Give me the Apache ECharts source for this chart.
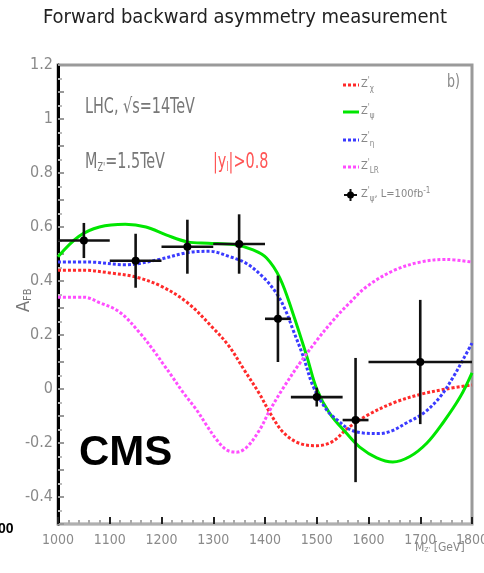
<!DOCTYPE html>
<html><head><meta charset="utf-8">
<script src="https://cdn.jsdelivr.net/npm/echarts@6/dist/echarts.min.js"></script>
<style>html,body{margin:0;padding:0;background:#fff}#c{width:484px;height:573px}</style>
</head><body><div id="c"></div><script>
// ---- data ----
const chiM = [1000,1050,1100,1150,1200,1250,1300,1330,1360,1390,1410,1435,1465,1500,1530,1560,1600,1650,1700,1750,1800];
const chiA = [0.44,0.44,0.43,0.415,0.38,0.32,0.225,0.16,0.07,-0.02,-0.09,-0.16,-0.20,-0.21,-0.195,-0.145,-0.095,-0.05,-0.02,0.0,0.015];

const psiM = [1000,1040,1080,1130,1170,1210,1250,1290,1340,1377,1403,1429,1454,1481,1500,1525,1558,1583,1616,1647,1680,1713,1744,1777,1800];
const psiA = [0.49,0.565,0.60,0.61,0.60,0.57,0.545,0.54,0.535,0.515,0.485,0.41,0.28,0.12,0.0,-0.09,-0.165,-0.215,-0.255,-0.27,-0.25,-0.20,-0.125,-0.03,0.06];

const etaM = [1000,1060,1130,1196,1250,1293,1332,1364,1396,1422,1440,1454,1474,1493,1520,1540,1564,1590,1620,1645,1674,1706,1738,1764,1783,1800];
const etaA = [0.47,0.47,0.46,0.48,0.505,0.51,0.49,0.465,0.415,0.355,0.29,0.22,0.12,0.01,-0.08,-0.115,-0.15,-0.163,-0.165,-0.155,-0.125,-0.09,-0.03,0.045,0.11,0.17];

const lrM = [1000,1050,1080,1119,1158,1187,1202,1221,1241,1268,1287,1307,1326,1345,1365,1390,1409,1434,1467,1500,1532,1564,1597,1650,1700,1750,1800];
const lrA = [0.34,0.34,0.32,0.285,0.208,0.137,0.096,0.045,-0.011,-0.078,-0.134,-0.189,-0.226,-0.234,-0.215,-0.15,-0.08,0.0,0.095,0.18,0.255,0.32,0.38,0.44,0.47,0.48,0.47];

// measured points (Z'_psi, L = 100 fb^-1)
const ptM   = [1050,1150,1250,1350,1425,1500,1575,1700];
const ptA   = [0.55,0.475,0.527,0.537,0.26,-0.03,-0.115,0.10];
const ptLo  = [1000,1100,1200,1300,1400,1450,1550,1600];
const ptHi  = [1100,1200,1300,1400,1450,1550,1600,1800];
const ptErr = [0.065,0.10,0.10,0.11,0.16,0.035,0.23,0.23];

const legendSub = ['χ','ψ','η','LR','ψ'];
const NARROW = '"Liberation Sans Narrow","Arial Narrow","DejaVu Sans Condensed",sans-serif';

const zip = (a,b) => a.map((v,i)=>[v,b[i]]);
const chart = echarts.init(document.getElementById('c'), null, {renderer:'canvas'});

function lineSeries(name, M, A, color, dash){
  return {name, type:'line', data:zip(M,A), smooth:0.35, showSymbol:false, silent:true,
    lineStyle:{color, width:3, type:dash}, z:3};
}

const gray = '#8a8a8a';
const option = {
  animation:false,
  grid:{left:58, right:12, top:65, bottom:49, show:true, borderColor:'#9a9a9a', borderWidth:3,
        containLabel:false, outerBoundsMode:'none'},
  xAxis:{type:'value', min:1000, max:1800, interval:100,
    axisLine:{show:true, onZero:false, lineStyle:{color:'#b0b0b0', width:2}},
    axisTick:{inside:true, length:7, lineStyle:{color:'#222', width:2}},
    minorTick:{show:true, splitNumber:5, length:4, lineStyle:{color:'#aaa', width:2}},
    splitLine:{show:false},
    axisLabel:{color:gray, fontFamily:NARROW, fontSize:14, margin:9, formatter:v=>String(v)}},
  yAxis:{type:'value', min:-0.5, max:1.2, interval:0.1,
    axisLine:{show:true, onZero:false, lineStyle:{color:'#000', width:3}},
    axisTick:{inside:true, length:6, lineStyle:{color:'#999', width:2}},
    minorTick:{show:true, splitNumber:2, length:4, lineStyle:{color:'#bbb', width:2}},
    splitLine:{show:false},
    axisLabel:{color:gray, fontFamily:NARROW, fontSize:16, margin:5,
      formatter:v=>{const k=Math.round(v*10); if(k%2!==0||k<-4) return ''; return String(k/10);}}},
  series:[
    lineSeries('chi', chiM, chiA, '#ff2a2a', [3,2]),
    lineSeries('psi', psiM, psiA, '#00e600', 'solid'),
    lineSeries('eta', etaM, etaA, '#3a3aff', [3,2]),
    lineSeries('lr',  lrM,  lrA,  '#ff4dff', [3,2]),
    {name:'data', type:'custom', z:5, silent:true,
     data: ptM.map((m,i)=>[m, ptA[i], ptLo[i], ptHi[i], ptErr[i]]),
     renderItem:(params, api)=>{
       const c  = api.coord([api.value(0), api.value(1)]);
       const l  = api.coord([api.value(2), api.value(1)]);
       const r  = api.coord([api.value(3), api.value(1)]);
       const t  = api.coord([api.value(0), api.value(1)+api.value(4)]);
       const b  = api.coord([api.value(0), api.value(1)-api.value(4)]);
       const st = {stroke:'#111', lineWidth:2.6};
       return {type:'group', children:[
         {type:'line', shape:{x1:l[0],y1:l[1],x2:r[0],y2:r[1]}, style:st},
         {type:'line', shape:{x1:t[0],y1:t[1],x2:b[0],y2:b[1]}, style:st},
         {type:'circle', shape:{cx:c[0],cy:c[1],r:4}, style:{fill:'#000'}}
       ]};
     }}
  ],
  graphic:[]
};

// text annotations
const G = option.graphic;
G.push({type:'text', x:245, y:8, style:{text:'Forward backward asymmetry measurement', font:'20px '+NARROW, fill:'#222', textAlign:'center'}});
G.push({type:'text', x:85, y:97, scaleY:1.3, style:{text:'LHC, √s=14TeV', font:'16px '+NARROW, fill:'#777'}});
G.push({type:'text', x:85, y:152, scaleY:1.3, style:{text:'{m|M}{s|Z\'}{m|=1.5TeV}', font:'16px '+NARROW, fill:'#777',
  rich:{m:{font:'16px '+NARROW, fill:'#777'}, s:{font:'9px '+NARROW, fill:'#777', padding:[8,0,0,0]}}}});
G.push({type:'text', x:213, y:152, scaleY:1.3, style:{text:'{m||y}{s|l}{m||>0.8}', font:'16px '+NARROW, fill:'#ff5555',
  rich:{m:{font:'16px '+NARROW, fill:'#ff5555'}, s:{font:'9px '+NARROW, fill:'#ff5555', padding:[8,0,0,0]}}}});
G.push({type:'text', x:447, y:73, scaleY:1.3, style:{text:'b)', font:'14px '+NARROW, fill:'#888'}});
G.push({type:'text', x:79, y:432, style:{text:'CMS', font:'bold 42px "Liberation Sans",Arial,sans-serif', fill:'#000'}});
G.push({type:'text', x:-2, y:522, style:{text:'00', font:'bold 14px "Liberation Sans",Arial,sans-serif', fill:'#000'}});
G.push({type:'text', x:415, y:541, style:{text:'{m|M}{s|Z\'}{m| [GeV]}', font:'12px '+NARROW, fill:'#888',
  rich:{m:{font:'12px '+NARROW, fill:'#888'}, s:{font:'7px '+NARROW, fill:'#888', padding:[6,0,0,0]}}}});
G.push({type:'text', x:15, y:312, rotation:Math.PI/2, style:{text:'{m|A}{s|FB}', font:'18px '+NARROW, fill:'#777',
  rich:{m:{font:'18px '+NARROW, fill:'#777'}, s:{font:'11px '+NARROW, fill:'#777', padding:[8,0,0,0]}}}});

// legend
const legColors = ['#ff2a2a','#00e600','#3a3aff','#ff4dff'];
const legDash = [[3,2], null, [3,2], [3,2]];
const legY = [85,112,140,167,195];
for(let i=0;i<4;i++){
  G.push({type:'line', shape:{x1:343,y1:legY[i],x2:359,y2:legY[i]}, style:{stroke:legColors[i], lineWidth:3, lineDash:legDash[i]}});
}
G.push({type:'line', shape:{x1:344,y1:legY[4],x2:357,y2:legY[4]}, style:{stroke:'#111', lineWidth:2}});
G.push({type:'line', shape:{x1:350.5,y1:legY[4]-6,x2:350.5,y2:legY[4]+6}, style:{stroke:'#111', lineWidth:2}});
G.push({type:'circle', shape:{cx:350.5, cy:legY[4], r:3.5}, style:{fill:'#000'}});
for(let i=0;i<5;i++){
  const extra = i===4 ? '{m|, L=100fb}{p|-1}' : '';
  G.push({type:'text', x:361, y:legY[i]-9, style:{text:'{m|Z}{p|\'}{s|'+legendSub[i]+'}'+extra, fill:'#888',
    rich:{m:{font:'11px '+NARROW, fill:'#888'}, p:{font:'8px '+NARROW, fill:'#888', padding:[0,0,7,0]}, s:{font:'8px '+NARROW, fill:'#888', padding:[9,0,0,0]}}}});
}

chart.setOption(option);
</script></body></html>
